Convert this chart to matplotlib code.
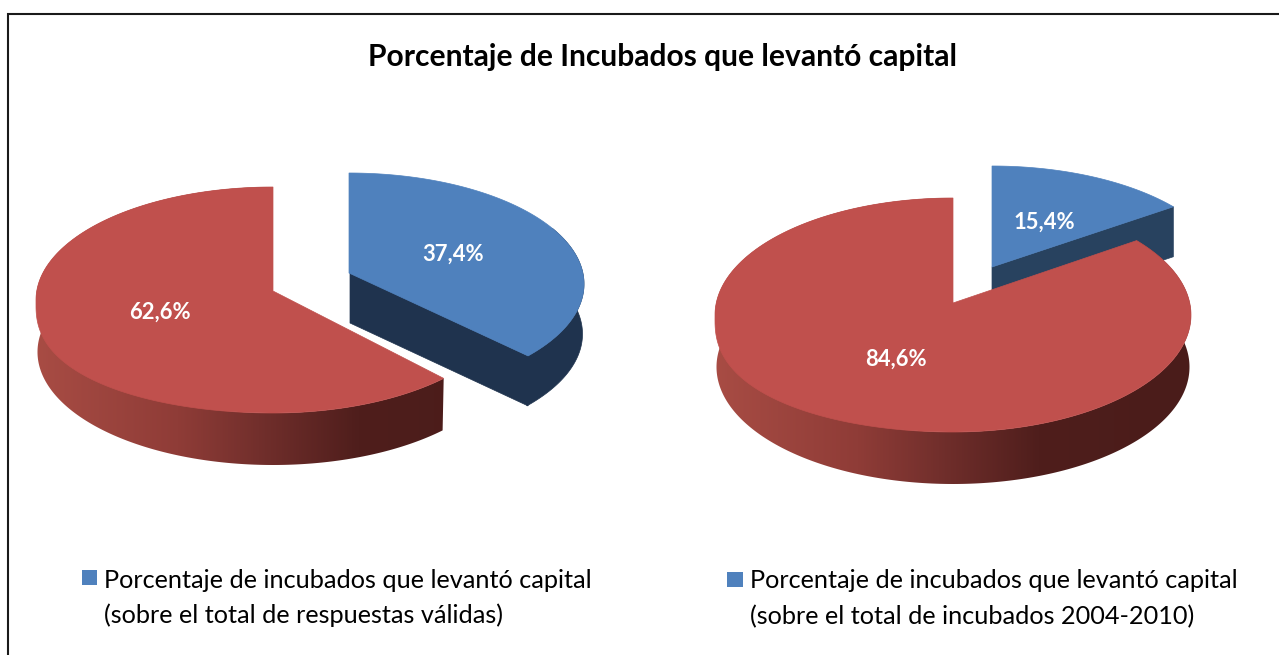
import numpy as np
import matplotlib
matplotlib.use('Agg')
import matplotlib.pyplot as plt
from matplotlib.colors import LinearSegmentedColormap
from matplotlib.patches import Polygon

# data
left_values = [37.4, 62.6]
right_values = [15.4, 84.6]
left_labels = ['37,4%', '62,6%']
right_labels = ['15,4%', '84,6%']
title = 'Porcentaje de Incubados que levantó capital'
left_legend = ['Porcentaje de incubados que levantó capital', '(sobre el total de respuestas válidas)']
right_legend = ['Porcentaje de incubados que levantó capital', '(sobre el total de incubados 2004-2010)']

BLUE = '#4F81BD'
RED = '#C0504D'
red_wall = LinearSegmentedColormap.from_list('red_wall', [(0, '#A84C44'), (0.3, '#8F3C37'), (0.47, '#722F2C'), (0.68, '#4F1E1C'), (1, '#4A1C1A')])

plt.rcParams['font.family'] = ['Lato', 'DejaVu Sans']

fig = plt.figure(figsize=(12.79, 6.55), dpi=100)
ax = fig.add_axes([0, 0, 1, 1])
ax.axis('off')


def arc(cx, cy, rx, ry, a1, a2, drop=0):
    t = np.radians(np.linspace(a1, a2, 300))
    return np.column_stack([cx + rx * np.sin(t), cy - ry * np.cos(t) + drop])


def bulge_arc(cx, cy, rx, ry, a1, a2):
    # lower left quarter of the top face is fuller than an ellipse
    pts = arc(cx, cy, rx, ry, a1, a2)
    t = np.radians(np.linspace(a1, a2, 300))
    low = (np.cos(t) < 0) & (np.sin(t) < 0)
    pts[low, 1] = cy + 5 + (ry - 5) * np.abs(np.cos(t[low])) ** 0.85
    return pts


def warp(a, k):
    # the 3d view squeezes the slice angles a little
    return a - k * np.sin(np.radians(a))


def top_face(cx, cy, rx, ry, a1, a2, apex_y, color, bulge=False):
    edge = bulge_arc(cx, cy, rx, ry, a1, a2) if bulge else arc(cx, cy, rx, ry, a1, a2)
    pts = np.vstack([[[cx, apex_y]], edge])
    ax.add_patch(Polygon(pts, closed=True, fc=color, ec=color, lw=0.5, zorder=5))


def wall(cx, cy, rx, ry, a1, a2, depth, cmap=None, color=None):
    top = arc(cx, cy, rx, ry, a1, a2)
    bottom = arc(cx, cy, rx - 1.5, ry, a1, a2, depth)
    pts = np.vstack([top, bottom[::-1]])
    if cmap is None:
        ax.add_patch(Polygon(pts, closed=True, fc=color, ec=color, lw=0.5, zorder=3))
        return
    poly = Polygon(pts, closed=True, fc='none', ec='none', transform=ax.transData)
    ax.add_patch(poly)
    grad = np.linspace(0, 1, 256).reshape(1, -1)
    im = ax.imshow(grad, cmap=cmap, extent=[cx - rx, cx + rx, cy + ry + depth, cy - ry],
                   aspect='auto', zorder=3)
    im.set_clip_path(poly)


def cut_face(cx, apex_y, x2, y2, depth, color):
    pts = [[cx, apex_y], [x2, y2], [x2, y2 + depth], [cx, apex_y + depth]]
    ax.add_patch(Polygon(pts, closed=True, fc=color, ec=color, lw=0.5, zorder=2))


# left pie
a_left = 360 * left_values[0] / sum(left_values)
a_blue = warp(a_left, 6)
a_red = warp(a_left, 1)

# blue slice, pulled out
end = arc(349, 284, 235, 111, a_blue, a_blue)[0]
cut_face(350, 273, end[0], end[1], 50, '#1F334E')
wall(349, 284, 235, 111, 60, a_blue, 50, color='#1F334E')
top_face(349, 284, 235, 111, 0, a_blue, 273, BLUE)

# red slice
wall(273, 300, 237, 113, a_red, 360, 52, cmap=red_wall)
top_face(273, 300, 237, 113, a_red, 360, 291, RED, bulge=True)

# right pie
a_right = 360 * right_values[0] / sum(right_values)
a_blue2 = warp(a_right, 6)

end = arc(992, 278, 235, 112, a_blue2, a_blue2)[0]
cut_face(992, 267, end[0], end[1], 50, '#28425F')
top_face(992, 278, 235, 112, 0, a_blue2, 267, BLUE)

wall(953, 315, 238, 117, a_blue2, 360, 52, cmap=red_wall)
top_face(953, 315, 238, 117, a_blue2, 360, 303, RED, bulge=True)

# value labels
lab = dict(color='white', fontsize=15.8, fontweight='bold', ha='center', va='center', zorder=10)
ax.text(453, 254, left_labels[0], **lab)
ax.text(160, 312, left_labels[1], **lab)
ax.text(1044, 222, right_labels[0], **lab)
ax.text(896, 359, right_labels[1], **lab)

# title
ax.text(662, 57, title, fontsize=21.6, fontweight='bold', ha='center', va='center', color='black')

# legends
leg = dict(fontsize=18.2, ha='left', va='center', color='black')
ax.add_patch(Polygon([[82, 570], [97, 570], [97, 585], [82, 585]], closed=True, fc=BLUE, ec='none'))
ax.text(104, 580, left_legend[0], **leg)
ax.text(104, 615, left_legend[1], **leg)
ax.add_patch(Polygon([[727, 572], [743, 572], [743, 587], [727, 587]], closed=True, fc=BLUE, ec='none'))
ax.text(750, 580, right_legend[0], **leg)
ax.text(750, 617, right_legend[1], **leg)

# frame of the chart, only left and top show
ax.plot([8, 8, 1279], [655, 14, 14], color='#1a1a1a', lw=1.5, zorder=1, solid_joinstyle='miter')

ax.set_xlim(0, 1279)
ax.set_ylim(655, 0)
fig.savefig('out.png', dpi=100)
